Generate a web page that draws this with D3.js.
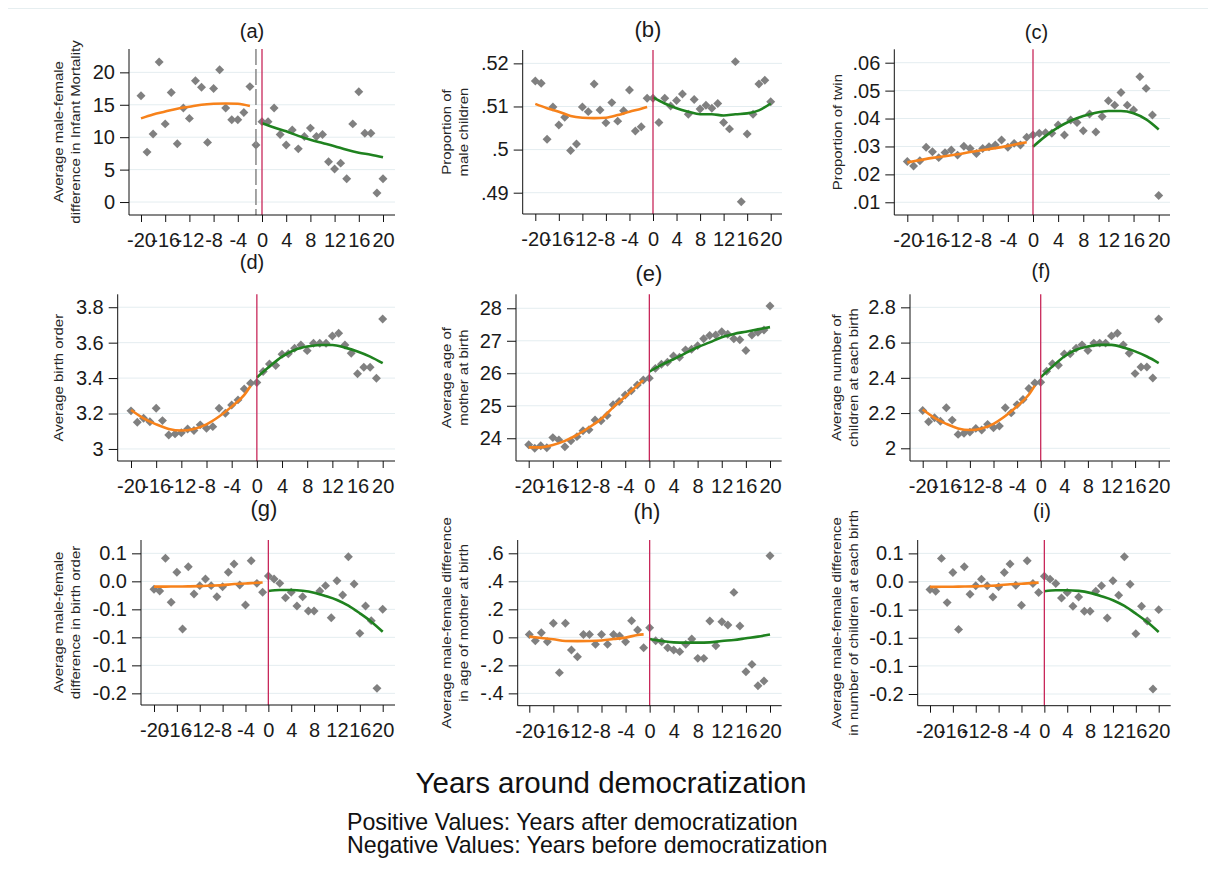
<!DOCTYPE html>
<html>
<head>
<meta charset="utf-8">
<script src="https://cdn.jsdelivr.net/npm/d3@7"></script>
<style>
  html, body { margin: 0; padding: 0; background: #ffffff; }
  svg { display: block; font-family: "Liberation Sans", Arial, sans-serif; }
</style>
</head>
<body>
<svg id="chart" width="1208" height="880"></svg>
<script>
// ---------------- DATA ----------------
const years = [-20,-19,-18,-17,-16,-15,-14,-13,-12,-11,-10,-9,-8,-7,-6,-5,-4,-3,-2,-1,0,1,2,3,4,5,6,7,8,9,10,11,12,13,14,15,16,17,18,19,20];
const xTickValues = [-20,-16,-12,-8,-4,0,4,8,12,16,20];
const xTickLabels = ["-20","-16","-12","-8","-4","0","4","8","12","16","20"];
const fitPreX  = [-20,-18,-16,-14,-12,-10,-8,-6,-4,-2,-1];
const fitPreXa = [-20,-18,-16,-14,-12,-10,-8,-6,-4,-2];
const fitPostX = [0,2,4,6,8,10,12,14,16,18,20];

const panelTitles = ["(a)","(b)","(c)","(d)","(e)","(f)","(g)","(h)","(i)"];
const yAxisTitles = [
  ["Average male-female","difference in Infant Mortality"],
  ["Proportion of","male children"],
  ["Proportion of twin"],
  ["Average birth order"],
  ["Average age of","mother at birth"],
  ["Average number of","children at each birth"],
  ["Average male-female","difference in birth order"],
  ["Average male-female difference","in age of mother at birth"],
  ["Average male-female difference","in number of children at each birth"]
];

// y ticks per panel
const yTicksA = [0,5,10,15,20];             const yLabelsA = ["0","5","10","15","20"];
const yTicksB = [0.49,0.5,0.51,0.52];       const yLabelsB = [".49",".5",".51",".52"];
const yTicksC = [0.01,0.02,0.03,0.04,0.05,0.06]; const yLabelsC = [".01",".02",".03",".04",".05",".06"];
const yTicksD = [3,3.2,3.4,3.6,3.8];        const yLabelsD = ["3","3.2","3.4","3.6","3.8"];
const yTicksE = [24,25,26,27,28];           const yLabelsE = ["24","25","26","27","28"];
const yTicksF = [2,2.2,2.4,2.6,2.8];        const yLabelsF = ["2","2.2","2.4","2.6","2.8"];
const yTicksG = [-0.2,-0.15,-0.1,-0.05,0,0.05]; const yLabelsG = ["-0.2","-0.1","-0.1","-0.1","0.0","0.1"];
const yTicksH = [-0.4,-0.2,0,0.2,0.4,0.6];  const yLabelsH = ["-.4","-.2","0",".2",".4",".6"];
const yTicksI = [-0.2,-0.15,-0.1,-0.05,0,0.05]; const yLabelsI = ["-0.2","-0.1","-0.1","-0.1","0.0","0.1"];

// y ranges per panel (axis extent)
const yDomainA = [-2, 23.6];
const yDomainB = [0.48506, 0.5231];
const yDomainC = [0.00545, 0.0648];
const yDomainD = [2.932, 3.873];
const yDomainE = [23.30, 28.43];
const yDomainF = [1.928, 2.874];
const yDomainG = [-0.2208, 0.0738];
const yDomainH = [-0.488, 0.695];
const yDomainI = [-0.2208, 0.0738];

// scatter values (one per year)
const pointsA = [16.4,7.7,10.5,21.6,12.05,16.9,9.0,14.5,12.9,18.7,17.7,9.2,17.5,20.4,14.5,12.7,12.7,13.8,17.8,8.8,
                 12.4,12.4,14.5,10.4,8.8,11.1,8.2,10.1,11.4,10.1,10.4,6.2,5.1,6.0,3.6,12.05,17.0,10.6,10.6,1.4,3.6];
const pointsB = [0.5159,0.5154,0.5024,0.5099,0.5057,0.5075,0.4998,0.5013,0.5099,0.5088,0.5152,0.5092,0.5062,0.5109,0.5066,0.5090,0.5138,0.5043,0.5053,0.5119,
                 0.5119,0.5063,0.5119,0.5101,0.5114,0.5129,0.5082,0.5116,0.5094,0.5103,0.5096,0.5107,0.5063,0.5048,0.5204,0.4879,0.5036,0.5082,0.5152,0.5161,0.5111];
const pointsC = [0.0246,0.0230,0.0249,0.0297,0.0281,0.0260,0.0278,0.0287,0.0269,0.0301,0.0293,0.0275,0.0293,0.0299,0.0305,0.0323,0.0297,0.0311,0.0305,0.0333,
                 0.0341,0.0347,0.0349,0.0347,0.0377,0.0341,0.0395,0.0386,0.0356,0.0416,0.0352,0.0407,0.0464,0.0448,0.0493,0.0448,0.0431,0.0550,0.0508,0.0413,0.0124];
const pointsD = [3.215,3.151,3.173,3.154,3.230,3.160,3.079,3.085,3.092,3.113,3.104,3.136,3.117,3.126,3.230,3.201,3.248,3.277,3.339,3.371,
                 3.375,3.437,3.480,3.471,3.535,3.537,3.568,3.587,3.555,3.597,3.597,3.597,3.638,3.653,3.587,3.540,3.424,3.461,3.461,3.399,3.734];
const pointsE = [23.80,23.69,23.77,23.71,24.02,23.95,23.74,23.92,24.05,24.23,24.26,24.56,24.54,24.70,25.03,25.13,25.33,25.46,25.64,25.79,
                 25.85,26.15,26.28,26.34,26.53,26.49,26.72,26.74,26.85,27.06,27.16,27.18,27.28,27.20,27.06,27.03,26.70,27.18,27.26,27.33,28.07];
const pointsF = [2.215,2.151,2.173,2.154,2.230,2.160,2.079,2.085,2.092,2.113,2.104,2.136,2.117,2.126,2.230,2.201,2.248,2.277,2.339,2.371,
                 2.375,2.437,2.480,2.471,2.535,2.537,2.568,2.587,2.555,2.597,2.597,2.597,2.638,2.653,2.587,2.540,2.424,2.461,2.461,2.399,2.734];
const pointsG = [-0.0143,-0.0173,0.0411,-0.0375,0.0161,-0.0851,0.0262,-0.0226,-0.0077,0.0042,-0.0077,-0.0274,-0.0095,0.0161,0.0310,-0.0065,-0.0423,0.0369,-0.0036,-0.0196,
                 0.0095,0.0042,-0.0036,-0.0292,-0.0196,-0.0440,-0.0274,-0.0530,-0.0530,-0.0173,-0.0077,-0.0649,0.0012,-0.0244,0.0440,-0.0048,-0.0929,-0.0440,-0.0702,-0.1911,-0.0500];
const pointsH = [0.021,-0.024,0.033,-0.031,0.100,-0.252,0.100,-0.090,-0.138,0.021,0.021,-0.050,0.021,-0.050,0.021,0.010,-0.031,0.119,0.052,-0.074,
                 0.069,-0.024,-0.031,-0.074,-0.090,-0.102,-0.050,-0.012,-0.150,-0.150,0.117,-0.060,0.112,0.088,0.321,0.081,-0.245,-0.193,-0.345,-0.312,0.583];
const pointsI = [-0.0143,-0.0173,0.0411,-0.0375,0.0161,-0.0851,0.0262,-0.0226,-0.0077,0.0042,-0.0077,-0.0274,-0.0095,0.0161,0.0310,-0.0065,-0.0423,0.0369,-0.0036,-0.0196,
                 0.0095,0.0042,-0.0036,-0.0292,-0.0196,-0.0440,-0.0274,-0.0530,-0.0530,-0.0173,-0.0077,-0.0649,0.0012,-0.0244,0.0440,-0.0048,-0.0929,-0.0440,-0.0702,-0.1911,-0.0500];

// fitted curves: before (orange) and after (green)
const preA  = [12.9,13.5,13.95,14.4,14.7,15.0,15.15,15.2,15.15,14.8];
const postA = [12.15,11.5,10.9,10.2,9.6,9.1,8.6,8.05,7.6,7.3,6.9];
const preB  = [0.5106,0.5096,0.5088,0.5078,0.5074,0.5073,0.5074,0.5080,0.5088,0.5095,0.5099];
const postB = [0.5121,0.5107,0.5096,0.5088,0.5082,0.5082,0.5079,0.5082,0.5084,0.5091,0.5107];
const preC  = [0.0243,0.0251,0.0259,0.0265,0.0272,0.0280,0.0287,0.0294,0.0302,0.0311,0.0315];
const postC = [0.0299,0.0337,0.0368,0.0392,0.0409,0.0421,0.0427,0.0427,0.0419,0.0397,0.0361];
const preD  = [3.220,3.173,3.139,3.113,3.104,3.113,3.139,3.183,3.239,3.305,3.356];
const postD = [3.403,3.465,3.521,3.559,3.578,3.587,3.587,3.572,3.550,3.521,3.484];
const preE  = [23.72,23.72,23.79,23.92,24.10,24.33,24.59,24.95,25.28,25.62,25.79];
const postE = [26.05,26.26,26.43,26.62,26.80,26.95,27.11,27.21,27.28,27.35,27.42];
const preF  = [2.220,2.173,2.139,2.113,2.104,2.113,2.139,2.183,2.239,2.305,2.356];
const postF = [2.403,2.465,2.521,2.559,2.578,2.587,2.587,2.572,2.550,2.521,2.484];
const preG  = [-0.0095,-0.0094,-0.0092,-0.0090,-0.0086,-0.0077,-0.0068,-0.0048,-0.0040,-0.0025,-0.0020];
const postG = [-0.0173,-0.0155,-0.0155,-0.0167,-0.0202,-0.0262,-0.0333,-0.0435,-0.0571,-0.0720,-0.0899];
const preH  = [0.005,-0.005,-0.014,-0.026,-0.027,-0.026,-0.022,-0.012,-0.002,0.017,0.021];
const postH = [-0.012,-0.026,-0.036,-0.038,-0.038,-0.036,-0.026,-0.019,-0.007,0.005,0.021];
const preI  = [-0.0095,-0.0094,-0.0092,-0.0090,-0.0086,-0.0077,-0.0068,-0.0048,-0.0040,-0.0025,-0.0020];
const postI = [-0.0173,-0.0155,-0.0155,-0.0167,-0.0202,-0.0262,-0.0333,-0.0435,-0.0571,-0.0720,-0.0899];

const eventYear = 0;      // democratization
const dashedYearA = -1;   // extra reference line in panel (a)

const xAxisTitle = "Years around democratization";
const noteLines = ["Positive Values: Years after democratization","Negative Values: Years before democratization"];

// ---------------- LAYOUT ----------------
const panels = [
  {points: pointsA, pre: preA, preX: fitPreXa, post: postA, yt: yTicksA, yl: yLabelsA, yd: yDomainA,
   box: {l:129, r:395, t:49, b:215, x0:141, x1:383}, title:{x:252, y:31, size:20}, ylab:[58,75], dashed: dashedYearA},
  {points: pointsB, pre: preB, preX: fitPreX, post: postB, yt: yTicksB, yl: yLabelsB, yd: yDomainB,
   box: {l:522.7, r:782, t:50, b:214, x0:535.3, x1:770.7}, title:{x:648, y:29, size:22}, ylab:[446.7,463.3]},
  {points: pointsC, pre: preC, preX: fitPreX, post: postC, yt: yTicksC, yl: yLabelsC, yd: yDomainC,
   box: {l:894.3, r:1170, t:49.3, b:215, x0:907.3, x1:1158.7}, title:{x:1036.5, y:31.5, size:20}, ylab:[837]},
  {points: pointsD, pre: preD, preX: fitPreX, post: postD, yt: yTicksD, yl: yLabelsD, yd: yDomainD,
   box: {l:117.7, r:395, t:294.3, b:461, x0:131, x1:382.7}, title:{x:252, y:262, size:20}, ylab:[58.3]},
  {points: pointsE, pre: preE, preX: fitPreX, post: postE, yt: yTicksE, yl: yLabelsE, yd: yDomainE,
   box: {l:516, r:781.7, t:294.3, b:461, x0:528.7, x1:770}, title:{x:649, y:273, size:22}, ylab:[446.7,463.3]},
  {points: pointsF, pre: preF, preX: fitPreX, post: postF, yt: yTicksF, yl: yLabelsF, yd: yDomainF,
   box: {l:910, r:1170, t:294.3, b:461, x0:922.7, x1:1158.7}, title:{x:1041, y:271, size:20}, ylab:[836.7,853.3]},
  {points: pointsG, pre: preG, preX: fitPreX, post: postG, yt: yTicksG, yl: yLabelsG, yd: yDomainG,
   box: {l:141, r:395, t:540, b:705, x0:154, x1:382.7}, title:{x:264, y:508, size:22}, ylab:[58.3,75]},
  {points: pointsH, pre: preH, preX: fitPreX, post: postH, yt: yTicksH, yl: yLabelsH, yd: yDomainH,
   box: {l:517.7, r:781.7, t:540, b:705.7, x0:529.3, x1:770}, title:{x:647, y:511, size:22}, ylab:[446.7,463.3]},
  {points: pointsI, pre: preI, preX: fitPreX, post: postI, yt: yTicksI, yl: yLabelsI, yd: yDomainI,
   box: {l:917.7, r:1170.7, t:540, b:705.7, x0:930, x1:1158.7}, title:{x:1042, y:511, size:20}, ylab:[836.7,853.3]}
];

const COLORS = {grid:"#e4edf0", marker:"#808080", pre:"#f7821b", post:"#1f821f", event:"#c8285a", dashed:"#8f8f8f", text:"#1a1a1a", axis:"#111"};
const FONT_TICK = 20;

const svg = d3.select("#chart");
svg.append("rect").attr("width",1208).attr("height",880).attr("fill","#fff");
// faint frame line at top
svg.append("line").attr("x1",8).attr("x2",1208).attr("y1",8.5).attr("y2",8.5)
   .attr("stroke","#e6eef0").attr("stroke-width",1);

const diamond = d3.symbol().type(d3.symbolSquare).size(40)();

panels.forEach((p, i) => {
  const B = p.box;
  const x = d3.scaleLinear().domain([-20, 20]).range([B.x0, B.x1]);
  const y = d3.scaleLinear().domain(p.yd).range([B.b, B.t]);
  const g = svg.append("g");

  // gridlines
  g.selectAll("line.grid").data(p.yt).join("line")
    .attr("x1", B.l).attr("x2", B.r)
    .attr("y1", d => y(d)).attr("y2", d => y(d))
    .attr("stroke", COLORS.grid).attr("stroke-width", 1);

  // scatter
  g.selectAll("path.pt").data(years.map((yr, k) => ({yr, v: p.points[k]}))).join("path")
    .attr("d", diamond)
    .attr("transform", d => `translate(${x(d.yr)},${y(d.v)}) rotate(45)`)
    .attr("fill", COLORS.marker);

  // fitted curves
  const line = d3.line().x(d => x(d[0])).y(d => y(d[1])).curve(d3.curveMonotoneX);
  g.append("path").datum(p.preX.map((yr, k) => [yr, p.pre[k]]))
    .attr("d", line).attr("fill","none").attr("stroke", COLORS.pre).attr("stroke-width", 2.6);
  g.append("path").datum(fitPostX.map((yr, k) => [yr, p.post[k]]))
    .attr("d", line).attr("fill","none").attr("stroke", COLORS.post).attr("stroke-width", 2.6);

  // reference lines
  if (p.dashed !== undefined) {
    g.append("line").attr("x1", x(p.dashed)).attr("x2", x(p.dashed))
      .attr("y1", B.t).attr("y2", B.b)
      .attr("stroke", COLORS.dashed).attr("stroke-width", 1.6).attr("stroke-dasharray","16,4");
  }
  g.append("line").attr("x1", x(eventYear)).attr("x2", x(eventYear))
    .attr("y1", B.t).attr("y2", B.b)
    .attr("stroke", COLORS.event).attr("stroke-width", 1.3);

  // y axis
  const ya = d3.axisLeft(y).tickValues(p.yt).tickFormat((d, k) => p.yl[k]).tickSize(9).tickPadding(5).tickSizeOuter(0);
  const yg = g.append("g").attr("transform", `translate(${B.l},0)`).call(ya);
  yg.select(".domain").attr("d", `M0,${B.t}V${B.b}`).attr("stroke", COLORS.axis);
  yg.selectAll(".tick line").attr("stroke", COLORS.axis);
  yg.selectAll("text").attr("font-size", FONT_TICK).attr("fill", COLORS.text)
    .attr("font-family", '"Liberation Sans", Arial, sans-serif');

  // x axis
  const xa = d3.axisBottom(x).tickValues(xTickValues).tickFormat((d, k) => xTickLabels[k]).tickSize(7).tickPadding(11).tickSizeOuter(0);
  const xg = g.append("g").attr("transform", `translate(0,${B.b})`).call(xa);
  xg.select(".domain").attr("d", `M${B.l},0H${B.r}`).attr("stroke", COLORS.axis);
  xg.selectAll(".tick line").attr("stroke", COLORS.axis);
  xg.selectAll("text").attr("font-size", FONT_TICK).attr("fill", COLORS.text)
    .attr("font-family", '"Liberation Sans", Arial, sans-serif');

  // panel title
  g.append("text").attr("x", p.title.x).attr("y", p.title.y)
    .attr("text-anchor","middle").attr("dominant-baseline","central")
    .attr("font-size", p.title.size).attr("fill", COLORS.text)
    .text(panelTitles[i]);

  // y axis title (rotated)
  const cy = (B.t + B.b) / 2;
  yAxisTitles[i].forEach((txt, k) => {
    g.append("text")
      .attr("transform", `translate(${p.ylab[k]},${cy}) rotate(-90) scale(1.15,1)`)
      .attr("text-anchor","middle").attr("dominant-baseline","central")
      .attr("font-size", 13).attr("fill", "#262626")
      .text(txt);
  });
});

// overall x title and notes
svg.append("text").attr("x", 611).attr("y", 793).attr("text-anchor","middle")
  .attr("font-size", 29.5).attr("fill", "#111").text(xAxisTitle);
noteLines.forEach((t, k) => {
  svg.append("text").attr("x", 347).attr("y", 830 + k * 23)
    .attr("font-size", 23.2).attr("fill", "#111").text(t);
});
</script>
</body>
</html>
